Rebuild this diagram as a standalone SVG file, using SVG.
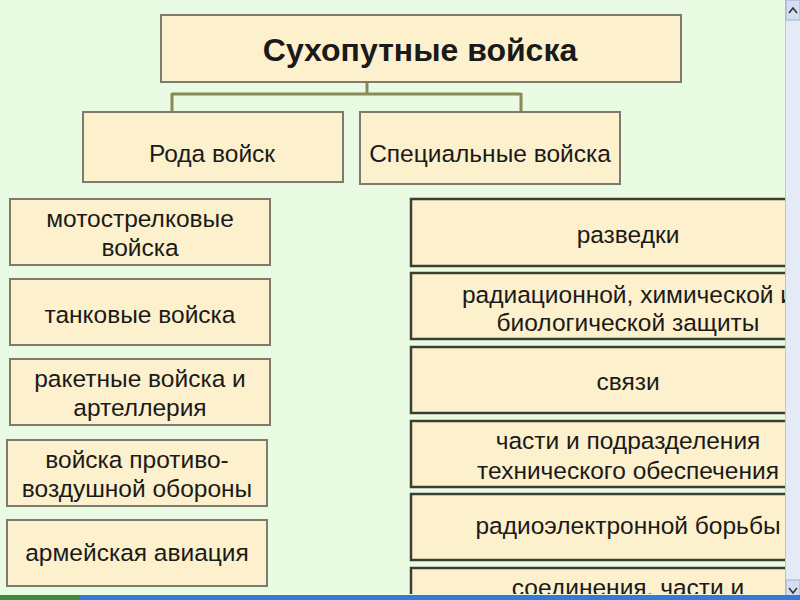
<svg xmlns="http://www.w3.org/2000/svg" width="800" height="600" viewBox="0 0 800 600">
<defs>
<style>
.bg{fill:#eafbe3}
.box{fill:#fdf0cc;stroke:#7d7b6e;stroke-width:2}
.boxr{fill:#fdf0cc;stroke:#3c3d33;stroke-width:2.5}
.conn{fill:none;stroke:#8a8a55;stroke-width:3}
text{font-family:"Liberation Sans",Arial,sans-serif;fill:#1a1a1a;text-anchor:middle}
.t{font-size:24.5px}
.title{font-size:32px;font-weight:bold}
</style>
<clipPath id="clipR"><rect x="0" y="0" width="785" height="594"/></clipPath>
</defs>
<rect class="bg" x="0" y="0" width="800" height="600"/>
<g id="connectors">
<path class="conn" d="M367 82 V94 M172 94 H521 M172 93 V112 M521 93 V112"/>
</g>
<g id="n-top">
<rect class="box" x="161" y="15" width="520" height="67"/>
<text class="title" x="420" y="61">Сухопутные войска</text>
</g>
<g id="n-roda">
<rect class="box" x="83" y="112" width="260" height="70"/>
<text class="t" x="212" y="162">Рода войск</text>
</g>
<g id="n-spec">
<rect class="box" x="360" y="112" width="260" height="72"/>
<text class="t" x="490" y="162">Специальные войска</text>
</g>
<g id="n-moto">
<rect class="box" x="10" y="199" width="260" height="66"/>
<text class="t" x="140" y="227">мотострелковые</text>
<text class="t" x="140" y="256">войска</text>
</g>
<g id="n-tank">
<rect class="box" x="10" y="279" width="260" height="66"/>
<text class="t" x="140" y="323">танковые войска</text>
</g>
<g id="n-raket">
<rect class="box" x="10" y="359" width="260" height="66"/>
<text class="t" x="140" y="387">ракетные войска и</text>
<text class="t" x="140" y="416">артеллерия</text>
</g>
<g id="n-pvo">
<rect class="box" x="7" y="440" width="260" height="66"/>
<text class="t" x="137" y="468">войска противо-</text>
<text class="t" x="137" y="497">воздушной обороны</text>
</g>
<g id="n-avia">
<rect class="box" x="7" y="520" width="260" height="66"/>
<text class="t" x="137" y="561">армейская авиация</text>
</g>
<g clip-path="url(#clipR)">
<g id="n-razv">
<rect class="boxr" x="411" y="199" width="440" height="67"/>
<text class="t" x="628" y="243">разведки</text>
</g>
<g id="n-rhbz">
<rect class="boxr" x="411" y="273" width="440" height="66"/>
<text class="t" x="628" y="303">радиационной, химической и</text>
<text class="t" x="628" y="331">биологической защиты</text>
</g>
<g id="n-svyaz">
<rect class="boxr" x="411" y="347" width="440" height="66"/>
<text class="t" x="628" y="390">связи</text>
</g>
<g id="n-tech">
<rect class="boxr" x="411" y="421" width="440" height="66"/>
<text class="t" x="628" y="449">части и подразделения</text>
<text class="t" x="628" y="479">технического обеспечения</text>
</g>
<g id="n-reb">
<rect class="boxr" x="411" y="494" width="440" height="66"/>
<text class="t" x="628" y="534">радиоэлектронной борьбы</text>
</g>
<g id="n-soed">
<rect class="boxr" x="411" y="568" width="440" height="60"/>
<text class="t" x="628" y="596">соединения, части и</text>
</g>
</g>
<g id="scrollbar">
<rect x="785" y="0" width="15" height="600" fill="#e4eaf6"/>
<line x1="785.5" y1="0" x2="785.5" y2="600" stroke="#b8c4dc"/>
<rect x="786" y="0" width="14" height="20" fill="#d4def2" stroke="#9fb0d0"/>
<path d="M789 13 L793 8 L797 13" fill="none" stroke="#333" stroke-width="1.6"/>
<rect x="786" y="580" width="14" height="20" fill="#d4def2" stroke="#9fb0d0"/>
<path d="M789 588 L793 593 L797 588" fill="none" stroke="#333" stroke-width="1.6"/>
</g>
<g id="taskbar">
<rect x="0" y="595" width="800" height="5" fill="#3a78d8"/>
<rect x="0" y="595" width="80" height="5" fill="#3f8a3c"/>
</g>
</svg>
